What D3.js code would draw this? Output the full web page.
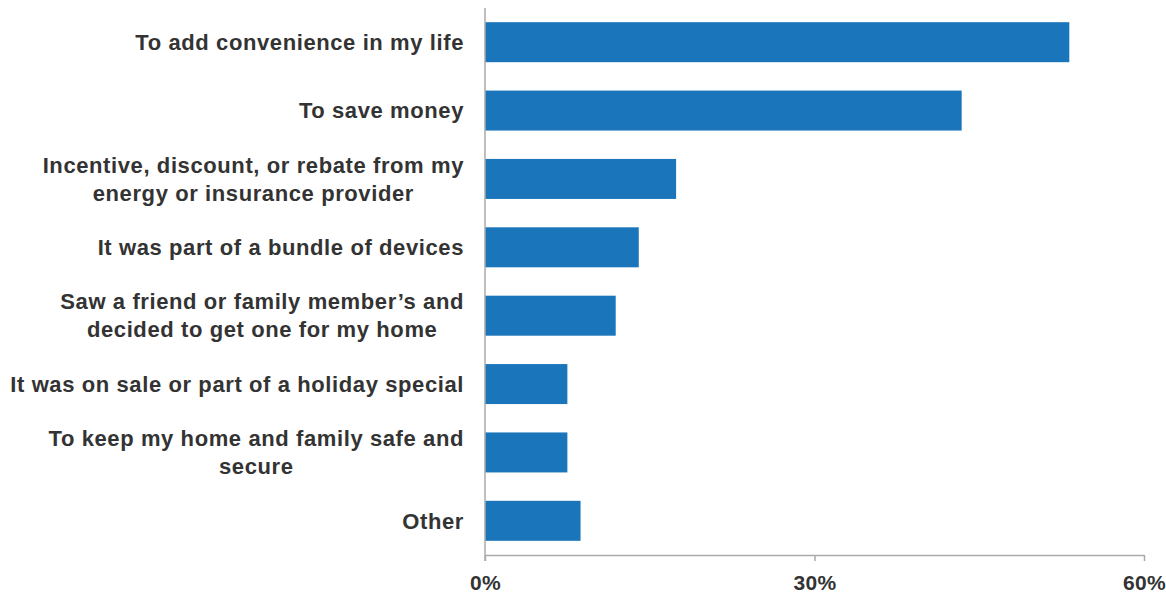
<!DOCTYPE html>
<html>
<head>
<meta charset="utf-8">
<script src="https://cdn.jsdelivr.net/npm/d3@7"></script>
<style>
  body { margin: 0; background: #fff; }
  text { font-family: "Liberation Sans", Arial, sans-serif; font-weight: bold; fill: #333; }
</style>
</head>
<body>
<div id="chart-area"></div>
<script>
var total_width = 1166;
var total_height = 596;

// categories (line breaks as in the original) and values in percent
var categories = [
  ["To add convenience in my life"],
  ["To save money"],
  ["Incentive, discount, or rebate from my", "energy or insurance provider"],
  ["It was part of a bundle of devices"],
  ["Saw a friend or family member\u2019s and", "decided to get one for my home"],
  ["It was on sale or part of a holiday special"],
  ["To keep my home and family safe and", "secure"],
  ["Other"]
];
var values = [53.2, 43.4, 17.4, 14.0, 11.9, 7.5, 7.5, 8.7];
var tickValues = [0, 30, 60];

var margin = {top: 8, right: 22, bottom: 41, left: 485};
var width = total_width - margin.left - margin.right;
var height = total_height - margin.top - margin.bottom;

var svg = d3.select('#chart-area').append('svg')
            .attr("width", total_width)
            .attr("height", total_height);

var chart = svg.append('g')
               .attr("transform", "translate(" + margin.left + "," + margin.top + ")");

var x = d3.scaleLinear().domain([0, 60]).range([0, width]);
var y = d3.scaleBand().domain(d3.range(categories.length)).range([0, height]).paddingInner(0.415).paddingOuter(0.2075);

// bars
chart.selectAll('rect.bar').data(values).enter().append('rect')
     .attr("class", "bar")
     .attr("x", x(0))
     .attr("y", (d, i) => y(i))
     .attr("width", (d) => x(d) - x(0))
     .attr("height", y.bandwidth())
     .attr("fill", "#1b75bb");

// x axis
var xAxis = d3.axisBottom(x).tickValues(tickValues).tickSize(6).tickSizeOuter(0)
              .tickFormat((d) => d + "%");
var gx = chart.append('g').attr("transform", "translate(0," + height + ")").call(xAxis);
gx.select('.domain').attr("stroke", "#aaa").attr("stroke-width", 1.5);
gx.selectAll('.tick line').attr("stroke", "#aaa").attr("stroke-width", 1.5);
gx.selectAll('.tick text').attr("dy", 0).attr("y", 35)
  .style("font-size", "21px").style("letter-spacing", "0.3px").attr("fill", "#333");

// y axis line
chart.append('line')
     .attr("x1", 0).attr("x2", 0)
     .attr("y1", 0).attr("y2", height + 6)
     .attr("stroke", "#aaa").attr("stroke-width", 1.5);

// category labels: block right aligned, lines centred in block
var lineH = 28;
categories.forEach(function(lines, i) {
  var g = chart.append('g');
  var cy = y(i) + y.bandwidth() / 2;
  var texts = lines.map(function(s, j) {
    return g.append('text')
            .attr("y", cy + (j - (lines.length - 1) / 2) * lineH)
            .attr("dy", "0.35em")
            .style("font-size", "22px")
            .style("letter-spacing", "0.6px")
            .attr("text-anchor", "middle")
            .text(s);
  });
  var maxW = d3.max(texts, (t) => t.node().getComputedTextLength());
  texts.forEach((t) => t.attr("x", -21 - maxW / 2));
});
</script>
</body>
</html>
